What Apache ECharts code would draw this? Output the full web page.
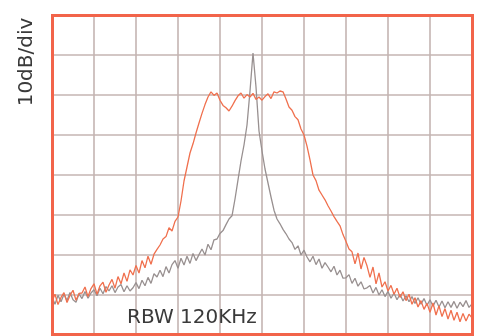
<!DOCTYPE html>
<html>
<head>
<meta charset="utf-8">
<script src="https://cdn.jsdelivr.net/npm/echarts@6/dist/echarts.min.js"></script>
<style>
  html, body { margin: 0; padding: 0; background: #fff; }
  #chart { width: 480px; height: 336px; }
</style>
</head>
<body>
<div id="chart"></div>
<script>
// spectrum traces, level in dB above the bottom gridline (10 dB per division)
const spanPoints = 141
const wideTrace = [
  8.5, 10.2, 7.6, 9.4, 10.6, 8.1, 9.9, 11.2, 8.7, 10.4, 10.5,
  12.0, 9.6, 11.6, 12.8, 10.2, 12.3, 13.2, 10.7, 12.5,
  13.9, 11.7, 14.6, 12.8, 15.5, 13.4, 16.3, 15.0,
  17.4, 15.5, 18.6, 16.8, 19.7, 17.7, 20.2,
  21.4, 22.5, 24.0,
  24.6, 26.8, 26.0, 28.4, 29.5,
  33.5, 38.5, 42.0, 45.5, 47.8, 50.5, 53.0, 55.4, 57.6, 59.5,
  60.8, 59.9, 60.5, 58.7, 57.4, 56.8, 56.0, 57.2, 58.6, 59.8,
  60.5, 59.2, 60.1, 59.5, 60.4, 58.9, 59.5, 58.7, 59.6, 60.3,
  59.1, 60.8, 60.5, 61.0, 60.8, 59.0, 57.0, 56.2, 54.6, 53.8,
  51.5, 50.0, 47.2, 43.8, 40.0, 38.6, 36.2, 35.0, 33.8, 32.3,
  31.0, 29.6, 28.4, 27.3, 25.1, 23.4, 21.5, 20.8, 17.8, 20.5,
  16.5, 19.4, 17.3, 14.4, 17.0, 12.8, 15.5, 12.0, 13.3, 11.0,
  12.4, 10.2, 11.7, 9.4, 10.8, 8.6, 10.2, 7.7, 9.3, 7.0,
  8.6, 6.4, 7.9, 5.7, 8.0, 5.0, 7.3, 4.6, 6.6, 4.0,
  6.2, 3.7, 5.7, 3.3, 5.4, 3.5, 5.2, 4.3
]
const narrowTrace = [
  9.5, 7.7, 9.9, 8.3, 10.2, 8.6, 10.6, 8.8, 8.2, 10.3, 9.1, 10.9, 9.2, 10.5, 11.3, 9.8, 11.7, 10.3, 12.1, 11.0,
  12.3, 10.6, 12.0, 12.6, 10.8, 12.3, 11.0, 11.8,
  13.1, 11.6, 13.7, 12.3, 14.4, 12.9, 15.3, 14.5,
  16.2, 14.6, 17.1, 15.5, 17.6,
  18.6, 16.7, 19.2, 17.5, 19.7, 17.9, 20.4, 18.6, 20.1,
  21.5, 20.0, 22.7, 21.3, 23.8, 24.0,
  25.4, 26.1, 27.6, 29.0, 29.8,
  34.0, 38.8, 43.5, 47.5, 52.5, 61.0, 70.5, 62.0, 51.0, 46.0,
  41.5, 38.0, 34.5, 31.2, 29.0, 27.8, 26.4, 25.3, 24.0, 23.1,
  21.4, 22.3, 20.0, 21.2, 19.5, 18.3, 19.7, 17.6, 19.0, 16.7,
  18.1, 17.0, 15.8, 17.2, 15.0, 16.2, 14.2, 14.3, 15.1, 12.9,
  14.2, 12.2, 13.3, 11.5, 11.8, 12.4, 10.5, 11.9, 10.0, 11.3,
  9.6, 10.9, 9.2, 10.5, 8.8, 10.2, 8.5, 9.8, 8.3, 9.6,
  7.9, 9.3, 7.7, 9.1, 7.4, 8.8, 7.2, 8.7, 7.0, 8.5,
  6.8, 8.3, 6.9, 8.4, 6.7, 8.2, 7.1, 8.6, 6.9, 7.8
]
const scaleLabel = '10dB/div'
const rbwLabel = 'RBW 120KHz'

const toPairs = arr => arr.map((v, i) => [i, v])

const chart = echarts.init(document.getElementById('chart'), null, { renderer: 'canvas' })

chart.setOption({
  backgroundColor: '#fff',
  animation: false,
  grid: {
    left: 52,
    top: 15,
    width: 420,
    height: 320,
  },
  xAxis: {
    type: 'value',
    min: 0,
    max: spanPoints - 1,
    interval: 14,
    axisLine: { show: false },
    axisTick: { show: false },
    axisLabel: { show: false },
    splitLine: { lineStyle: { color: '#c4b4b2', width: 1.6 } },
  },
  yAxis: {
    type: 'value',
    min: 0,
    max: 80,
    interval: 10,
    axisLine: { show: false },
    axisTick: { show: false },
    axisLabel: { show: false },
    splitLine: { lineStyle: { color: '#c4b4b2', width: 1.6 } },
  },
  graphic: [
    {
      // instrument screen frame
      type: 'rect',
      z: 100,
      shape: { x: 52.5, y: 15.5, width: 420, height: 319 },
      style: { fill: null, stroke: '#f2644a', lineWidth: 3 },
      silent: true,
    },
    {
      type: 'text',
      x: 27,
      y: 62,
      rotation: Math.PI / 2,
      style: {
        text: scaleLabel,
        fontFamily: 'DejaVu Sans',
        fontSize: 20,
        fill: '#3a3a3a',
        align: 'center',
        verticalAlign: 'middle',
      },
    },
    {
      type: 'text',
      x: 127,
      y: 318,
      z: 10,
      style: {
        text: rbwLabel,
        fontFamily: 'DejaVu Sans',
        fontSize: 20,
        fill: '#3a3a3a',
        align: 'left',
        verticalAlign: 'middle',
      },
    },
  ],
  series: [
    {
      type: 'line',
      data: toPairs(narrowTrace),
      showSymbol: false,
      lineStyle: { color: '#989090', width: 1.3 },
      z: 3,
    },
    {
      type: 'line',
      data: toPairs(wideTrace),
      showSymbol: false,
      lineStyle: { color: '#f0704e', width: 1.3 },
      z: 4,
    },
  ],
})
</script>
</body>
</html>
